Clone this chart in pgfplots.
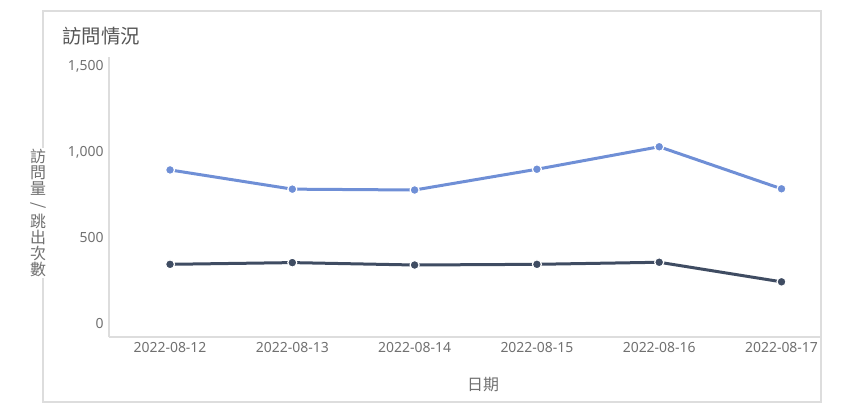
\documentclass[border=0pt]{standalone}
\usepackage{pgfplots}
\pgfplotsset{compat=1.18}
\usepackage{fontspec}
\setmainfont{Noto Sans}
\newfontfamily\cjk{Noto Sans CJK TC}
\definecolor{cblue}{HTML}{6F8FD6}
\definecolor{cdark}{HTML}{3F4C62}
\definecolor{ctext}{HTML}{707070}
\definecolor{ctitle}{HTML}{555555}
\definecolor{cline}{HTML}{DDDDDD}
\begin{document}
\begin{tikzpicture}[x=1bp,y=1bp]
\path[use as bounding box] (0,0) rectangle (842,417);
\draw[cline, line width=1.2bp] (43,15) rectangle (821,406);
\begin{axis}[at={(109bp,80bp)}, anchor=south west, scale only axis,
  width=712bp, height=280bp,
  xmin=-0.499, xmax=5.323, ymin=-77.5, ymax=1554,
  axis x line=bottom, axis y line=left,
  axis line style={cline, line width=1.2bp, -},
  major tick length=0pt,
  xtick={0,1,2,3,4,5},
  xticklabels={2022-08-12,2022-08-13,2022-08-14,2022-08-15,2022-08-16,2022-08-17},
  ytick={0,500,1000,1500},
  /pgf/number format/assume math mode=true,
  /pgf/number format/1000 sep={,},
  scaled y ticks=false,
  tick label style={font=\fontsize{14}{16}\selectfont, text=ctext},
  yticklabel style={xshift=-2bp},
  xticklabel style={yshift=-2bp},
  clip=false]
\addplot[cblue, line width=3bp, mark=*, mark size=4.5bp,
  mark options={draw=white, line width=1.2bp, fill=cblue}]
  coordinates {(0,896) (1,784) (2,779) (3,900) (4,1031) (5,786)};
\addplot[cdark, line width=3bp, mark=*, mark size=4.5bp,
  mark options={draw=white, line width=1.2bp, fill=cdark}]
  coordinates {(0,346) (1,356) (2,342) (3,346) (4,358) (5,244)};
\end{axis}
\node[anchor=west, text=ctitle, font=\cjk\fontsize{19.5}{22}\selectfont, inner sep=0pt] at (62,381) {訪問情況};
\node[text=ctext, font=\cjk\fontsize{16}{18}\selectfont, inner sep=0pt] at (483,32) {日期};
\node[fill=white, text=ctext, font=\cjk\fontsize{16}{16.3}\selectfont, inner sep=1pt, align=center] at (38,204)
  {訪\\問\\量\\\rotatebox[origin=c]{-90}{/}\\跳\\出\\次\\數};
\end{tikzpicture}
\end{document}
